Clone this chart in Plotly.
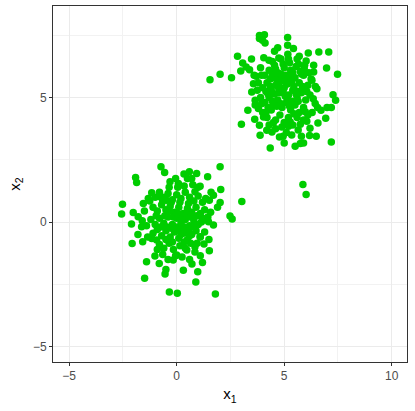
import plotly.graph_objects as go

# ── Data: two clusters ────────────────────────────────────────────────
upper_x1 = [
    3.85, 4.08, 3.85, 4.11, 3.99, 5.16, 5.16, 5.43, 4.55, 5.17, 5.70, 6.12,
    6.61, 7.07, 2.83, 3.07, 3.48, 4.29, 4.75, 5.20, 5.67, 6.02, 6.37, 6.97,
    7.48, 2.98, 3.39, 2.02, 1.55, 2.55, 3.23, 7.27, 7.39, 6.99, 7.19, 6.71,
    6.93, 6.57, 6.20, 6.49, 6.18, 7.19, 5.90, 5.75, 5.51, 5.00, 4.78, 4.35,
    3.88, 3.01, 3.31, 3.63, 3.85, 4.19, 4.43, 4.89, 5.28, 5.75, 5.98, 6.44,
    6.52, 6.29, 6.37, 5.93, 3.57, 3.49, 3.65, 3.80, 4.04, 3.70,
    4.1, 4.3, 4.5, 4.7, 4.9, 5.1, 5.3, 5.5, 5.7, 5.9, 6.1, 4.0, 4.2, 4.4,
    4.6, 4.8, 5.0, 5.2, 5.4, 5.6, 5.8, 6.0, 6.2, 3.9, 4.1, 4.3, 4.5, 4.7,
    4.9, 5.1, 5.3, 5.5, 5.7, 5.9, 6.1, 4.0, 4.2, 4.4, 4.6, 4.8, 5.0, 5.2,
    5.4, 5.6, 4.35, 4.55, 4.75, 4.95, 5.15, 5.35, 5.55, 5.75, 5.05, 4.65,
    5.45, 4.25, 3.95, 3.75, 3.65, 6.25, 6.35, 6.45, 4.85, 5.25, 4.45, 3.9,
    4.05, 5.95, 6.05, 4.3, 4.6, 5.1, 5.35, 5.65, 5.87, 6.02,
    4.45, 4.65, 4.85, 5.05, 5.25, 5.45, 5.65, 4.35, 4.55, 4.75, 4.95, 5.15,
    5.35, 5.55, 4.25, 4.45, 4.85, 5.25, 5.65, 5.85, 6.05, 4.15, 4.6, 5.0,
    5.4, 5.8, 6.15, 3.8, 3.6, 6.55, 6.3, 5.9, 4.95, 4.5, 4.15, 3.95, 5.2,
    5.8, 4.7, 5.6,
]
upper_x2 = [
    7.50, 7.53, 7.37, 7.19, 7.30, 7.41, 7.10, 6.97, 6.86, 6.74, 6.66, 6.79,
    6.83, 6.83, 6.66, 6.39, 6.55, 6.50, 6.59, 6.55, 6.34, 6.47, 6.30, 6.19,
    5.94, 6.07, 6.12, 5.94, 5.72, 5.80, 6.23, 5.12, 4.89, 4.60, 4.60, 4.49,
    4.17, 3.98, 3.77, 3.45, 3.48, 3.22, 3.18, 3.16, 3.05, 3.18, 3.42, 2.98,
    3.49, 3.93, 4.49, 4.13, 3.89, 3.69, 3.62, 3.82, 4.02, 3.93, 4.43, 4.76,
    5.36, 5.70, 6.03, 6.16, 5.56, 5.23, 4.89, 4.56, 4.22, 5.86,
    5.9, 6.1, 5.8, 6.0, 5.7, 5.9, 6.1, 5.8, 5.6, 5.9, 5.5, 5.4, 5.6, 5.3,
    5.5, 5.2, 5.4, 5.1, 5.3, 5.0, 5.2, 4.9, 5.1, 5.0, 4.8, 5.0, 4.7, 4.9,
    4.6, 4.8, 4.5, 4.7, 4.4, 4.6, 4.3, 4.4, 4.2, 4.5, 4.1, 4.3, 4.0, 4.2,
    3.9, 4.2, 5.75, 6.3, 5.35, 6.35, 5.55, 5.65, 6.25, 6.05, 5.05, 4.65,
    4.35, 4.6, 5.9, 5.3, 4.7, 5.75, 4.95, 5.45, 6.55, 6.4, 6.45, 6.2,
    6.6, 6.3, 4.05, 3.9, 3.75, 3.6, 3.5, 3.7, 1.51, 1.11,
    5.95, 5.75, 5.95, 5.65, 5.85, 5.45, 5.25, 5.45, 5.15, 5.55, 5.25, 4.95,
    4.85, 5.15, 5.15, 4.85, 4.75, 4.65, 4.85, 5.45, 5.25, 5.25, 6.15, 6.2,
    6.0, 5.95, 6.0, 5.6, 5.9, 4.6, 4.4, 4.1, 3.45, 4.0, 4.4, 4.75, 3.85,
    3.45, 7.0, 6.55,
]

lower_x1 = [
    -0.73, -0.56, -1.91, -1.86, 0.34, 0.59, 0.93, 1.44, 2.02, 1.09, 2.05,
    1.71, 3.03, 1.52, 2.02, 2.48, 2.58, -2.52, -2.56, -2.02, -2.10, -1.63,
    -2.07, -1.58, -1.40, -1.49, -1.01, -0.81, -0.54, -0.50, -0.34, 0.03,
    1.80, 0.89, 0.98, 0.31, 0.71, 1.20, 1.52, 1.27, 1.71, 1.58, 1.48,
    -1.16, -1.32, -1.55, -1.79, -1.16, -0.93, -0.16, 0.00, 0.47, 0.85,
    1.09, -0.31, 0.08, 0.70, 0.85, -0.78, -0.47,
    -1.0, -0.8, -0.6, -0.4, -0.2, 0.0, 0.2, 0.4, 0.6, 0.8, 1.0, 1.2, -1.1,
    -0.9, -0.7, -0.5, -0.3, -0.1, 0.1, 0.3, 0.5, 0.7, 0.9, 1.1, 1.3, -1.2,
    -1.0, -0.8, -0.6, -0.4, -0.2, 0.0, 0.2, 0.4, 0.6, 0.8, 1.0, 1.2, -1.1,
    -0.9, -0.7, -0.5, -0.3, -0.1, 0.1, 0.3, 0.5, 0.7, 0.9, 1.1, 1.3, -0.8,
    -0.6, -0.35, -0.15, 0.15, 0.4, 0.65, 0.85, -0.05, 0.25, -1.4, -1.5,
    -1.35, 1.45, 1.5, 0.05, 0.35, -0.35, 0.75, 1.0, -0.65,
    -0.55, -0.35, -0.15, 0.05, 0.25, 0.45, 0.65, -0.45, -0.25, -0.05, 0.15,
    0.35, 0.55, 0.75, -0.65, -0.25, 0.15, 0.55, 0.95, 1.15, -0.95, -0.75,
    -0.2, 0.2, 0.6, 0.35, -0.5, -1.25, -1.6, 1.35, 1.6, 0.5, 0.95, 1.1,
    -0.9, -0.4, 0.6, -1.8, 1.9, -0.05,
]
lower_x2 = [
    2.22, 1.99, 1.79, 1.59, 1.93, 2.02, 1.95, 1.82, 2.22, 1.44, 1.31,
    1.08, 0.83, 0.88, 0.79, 0.24, 0.12, 0.72, 0.32, 0.39, -0.08, -0.19,
    -0.86, -0.79, -1.59, -2.26, -1.36, -1.66, -2.09, -1.90, -2.81, -2.86,
    -2.89, -2.41, -1.99, -1.93, -1.68, -1.62, -1.15, -0.88, -0.12, 0.40,
    0.01, 1.18, 0.95, 0.75, 0.21, -0.66, -0.72, -1.52, -1.32, -1.12, -0.99,
    -0.59, 1.62, 1.55, 1.75, 1.22, 1.02, 0.88,
    1.0, 1.2, 1.0, 1.15, 0.9, 1.1, 0.95, 1.2, 1.0, 0.85, 1.05, 0.8, 0.6,
    0.45, 0.7, 0.5, 0.65, 0.4, 0.6, 0.35, 0.55, 0.4, 0.6, 0.35, 0.5, 0.1,
    -0.1, 0.15, -0.05, 0.2, -0.1, 0.15, -0.05, 0.1, -0.15, 0.05, -0.1, 0.15,
    -0.45, -0.3, -0.55, -0.35, -0.6, -0.4, -0.65, -0.45, -0.7, -0.5, -0.35,
    -0.6, -0.4, -0.9, -1.05, -0.85, -1.1, -0.95, -1.05, -0.85, -1.2, -1.35,
    -1.4, -0.15, 0.45, -0.6, 0.2, -0.7, 1.4, 1.45, 1.4, 1.5, 1.4, -1.3,
    0.25, 0.45, 0.2, 0.35, 0.15, 0.3, 0.2, -0.2, -0.25, -0.2, -0.3, -0.2,
    -0.35, -0.2, 0.85, 0.8, 0.8, 0.75, 0.25, 0.0, 0.25, -0.2, -0.8, -0.5,
    -0.55, -0.8, -0.7, 0.85, 0.05, 0.95, 1.2, 1.75, -0.85, -1.35, -1.1,
    -1.5, -1.5, -0.5, 0.6, 1.75,
]

x1 = upper_x1 + lower_x1
x2 = upper_x2 + lower_x2

x_ticks = [-5, 0, 5, 10]
y_ticks = [-5, 0, 5]

# ── Figure ────────────────────────────────────────────────────────────
fig = go.Figure(go.Scatter(
    x=x1, y=x2, mode="markers",
    marker=dict(color="#00CD00", size=7.5, line_width=0),
    showlegend=False,
))

axis_common = dict(
    showline=True, mirror=True, linecolor="#333333", linewidth=1,
    gridcolor="#EBEBEB", gridwidth=1, zeroline=False,
    ticks="outside", ticklen=3, tickcolor="#333333",
    tickfont=dict(family="Liberation Sans, Arial, sans-serif", size=12,
                  color="#4D4D4D"),
)

fig.update_layout(
    width=415, height=411,
    paper_bgcolor="white", plot_bgcolor="white",
    margin=dict(l=53, r=8, t=6, b=49),
    font=dict(family="Liberation Sans, Arial, sans-serif", color="#000000"),
    xaxis=dict(
        range=[-5.75, 10.71], tickvals=x_ticks,
        title=dict(text="x<sub>1</sub>", font=dict(size=15), standoff=6),
        minor=dict(tickvals=[-2.5, 2.5, 7.5], showgrid=True,
                   gridcolor="#F2F2F2", gridwidth=1, ticks=""),
        **axis_common,
    ),
    yaxis=dict(
        range=[-5.62, 8.68], tickvals=y_ticks,
        title=dict(text="x<sub>2</sub>", font=dict(size=15), standoff=8),
        minor=dict(tickvals=[-2.5, 2.5, 7.5], showgrid=True,
                   gridcolor="#F2F2F2", gridwidth=1, ticks=""),
        **axis_common,
    ),
)

# page has a default body margin; drop it so the figure fills the window
fig.write_html("out.html", config={"displayModeBar": False},
               post_script="document.body.style.margin='0';")
